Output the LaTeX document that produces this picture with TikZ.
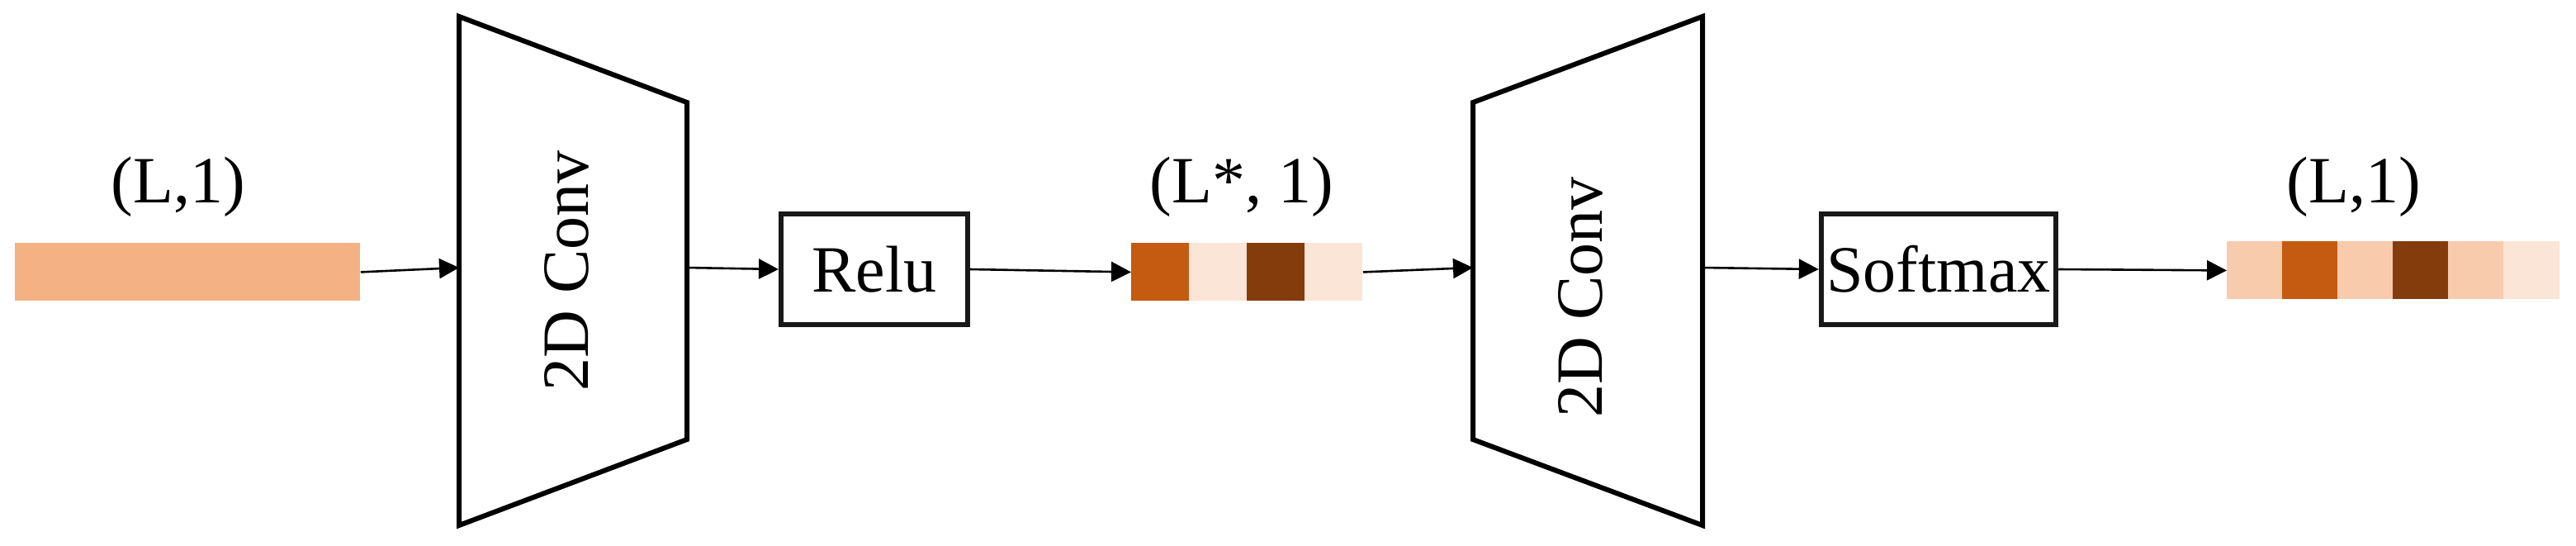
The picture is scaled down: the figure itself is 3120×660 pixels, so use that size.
\documentclass[tikz,border=0pt]{standalone}
\usepackage{fontspec}
\setmainfont{Liberation Serif}
\usetikzlibrary{arrows.meta}
\definecolor{cA}{HTML}{F4B183}
\definecolor{cB}{HTML}{C55A11}
\definecolor{cC}{HTML}{FBE5D6}
\definecolor{cD}{HTML}{843C0C}
\definecolor{cE}{HTML}{F8CBAD}
\begin{document}
\begin{tikzpicture}[x=0.5pt,y=-0.5pt,
  txt/.style={font=\fontsize{40}{44}\selectfont, inner sep=0pt},
  box/.style={draw=black!90, line width=3pt, minimum width=110pt, minimum height=67pt, anchor=center, font=\fontsize{40}{44}\selectfont},
  trap/.style={draw=black, line width=3pt, line join=miter},
  arr/.style={line width=1.3pt, -{Triangle[length=12pt,width=12pt]}},
  cell/.style={inner sep=0pt, minimum height=35pt, anchor=north west}]
\useasboundingbox (0,0) rectangle (3120,660);
% input bar
\node[cell, fill=cA, minimum width=209pt] (in) at (18,294) {};
\node[txt] (lin) at (216,226) {(L,1)};
% trapezoid 1
\draw[trap] (556,20) -- (832,124) -- (832,532) -- (556,636) -- cycle;
\coordinate (t1w) at (556,324);
\coordinate (t1e) at (832,324);
\node[txt, rotate=90] (c1) at (686,328) {2D Conv};
% relu
\node[box, minimum width=113pt] (relu) at (1059,326) {Relu};
% middle bar
\node[cell, fill=cB, minimum width=35pt] (m1) at (1370,294) {};
\node[cell, fill=cC, minimum width=35pt] (m2) at (1440,294) {};
\node[cell, fill=cD, minimum width=35pt] (m3) at (1510,294) {};
\node[cell, fill=cC, minimum width=35pt] (m4) at (1580,294) {};
\node[txt] (lmid) at (1504,226) {(L*, 1)};
% trapezoid 2
\draw[trap] (1784,124) -- (2062,20) -- (2062,636) -- (1784,532) -- cycle;
\coordinate (t2w) at (1784,324);
\coordinate (t2e) at (2062,324);
\node[txt, rotate=90] (c2) at (1914,360) {2D Conv};
% softmax
\node[box, minimum width=138pt] (soft) at (2348,326) {Softmax};
% output bar
\node[cell, fill=cE, minimum width=34pt] (o1) at (2697,292) {};
\node[cell, fill=cB, minimum width=34pt] (o2) at (2764,292) {};
\node[cell, fill=cE, minimum width=34pt] (o3) at (2831,292) {};
\node[cell, fill=cD, minimum width=34pt] (o4) at (2898,292) {};
\node[cell, fill=cE, minimum width=34pt] (o5) at (2965,292) {};
\node[cell, fill=cC, minimum width=34pt] (o6) at (3032,292) {};
\node[txt] (lout) at (2851,226) {(L,1)};
% arrows
\draw[arr] (in.east) -- (t1w);
\draw[arr] (t1e) -- (relu.west);
\draw[arr] (relu.east) -- (m1.west);
\draw[arr] (m4.east) -- (t2w);
\draw[arr] (t2e) -- (soft.west);
\draw[arr] (soft.east) -- (o1.west);
\end{tikzpicture}
\end{document}
